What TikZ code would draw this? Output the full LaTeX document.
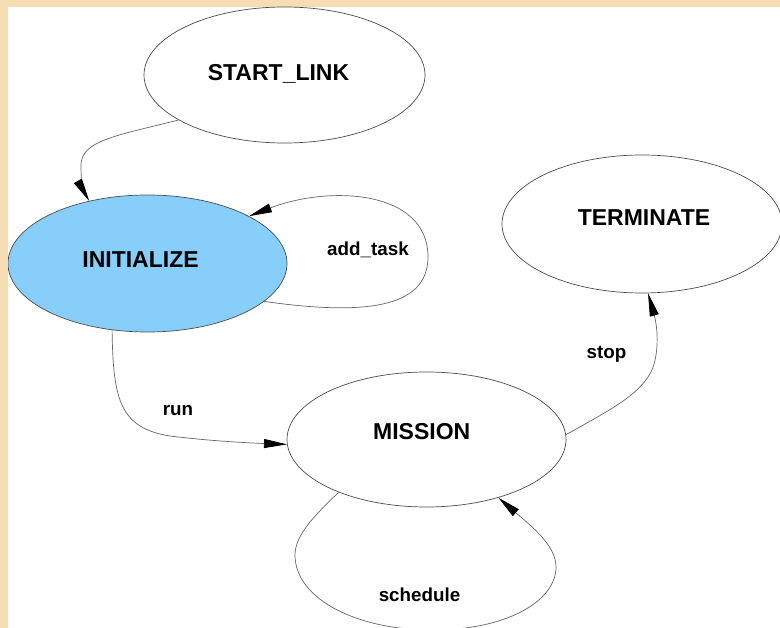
\documentclass[tikz,border=0pt]{standalone}
\usepackage{fontspec}
\setmainfont{Liberation Sans}
\usetikzlibrary{shapes.geometric,arrows.meta}
\definecolor{wheatband}{RGB}{245,222,179}
\definecolor{initblue}{RGB}{135,206,250}
\begin{document}
\begin{tikzpicture}[x=1pt,y=-1pt,
  state/.style={ellipse, draw=black!70, line width=0.7pt, inner sep=0pt},
  statename/.style={anchor=base, font=\bfseries\fontsize{23}{23}\selectfont},
  edgelabel/.style={anchor=base, font=\bfseries\fontsize{18.8}{19}\selectfont},
  trans/.style={draw=black!60, line width=0.7pt,
    -{Triangle[length=23pt,width=9pt,color=black]}}]
  % frame: wheat band on top and left, white canvas
  \useasboundingbox (0,0) rectangle (780,628);
  \fill[wheatband] (0,0) rectangle (780,628);
  \fill[white] (8,7) rectangle (780,628);
  \begin{scope}
    \clip (8,7) rectangle (780,628);
    % states
    \node[state, minimum width=281pt, minimum height=136pt] (startlink) at (284.5,75) {};
    \node[state, fill=initblue, minimum width=279pt, minimum height=137pt] (init) at (147.5,263.5) {};
    \node[state, minimum width=279pt, minimum height=135pt] (mission) at (426.5,439.5) {};
    \node[state, minimum width=280pt, minimum height=138pt] (term) at (642,224) {};
    \node[statename] (startlink-t) at (278.5,81) {START\_LINK};
    \node[statename] (init-t) at (140.5,268) {INITIALIZE};
    \node[statename] (mission-t) at (421.7,440) {MISSION};
    \node[statename] (term-t) at (644,226) {TERMINATE};
    % transitions
    \draw[trans] (startlink.203) .. controls (120,135) and (81,140) .. (81,165)
      .. controls (81,180) and (83,190) .. (init.133);
    \draw[trans] (init.342) .. controls (360,315) and (428,310) .. (428,257)
      .. controls (428,190) and (330,185) .. (init.25);
    \draw[trans] (init.242) .. controls (113,400) and (120,428) .. (170,436)
      .. controls (210,441) and (250,443) .. (mission.182);
    \draw[trans] (mission.2) .. controls (610,410) and (640,395) .. (652,370)
      .. controls (660,350) and (657,325) .. (term.275);
    \draw[trans] (mission.211) .. controls (315,515) and (295,535) .. (295,555)
      .. controls (295,600) and (360,632) .. (440,630)
      .. controls (510,628) and (556,600) .. (556,567)
      .. controls (556,545) and (530,525) .. (mission.321);
    % transition labels
    \node[edgelabel] (l-add) at (368,256) {add\_task};
    \node[edgelabel] (l-run) at (178,416) {run};
    \node[edgelabel] (l-stop) at (606.5,359) {stop};
    \node[edgelabel] (l-sched) at (419.5,601) {schedule};
  \end{scope}
\end{tikzpicture}
\end{document}
